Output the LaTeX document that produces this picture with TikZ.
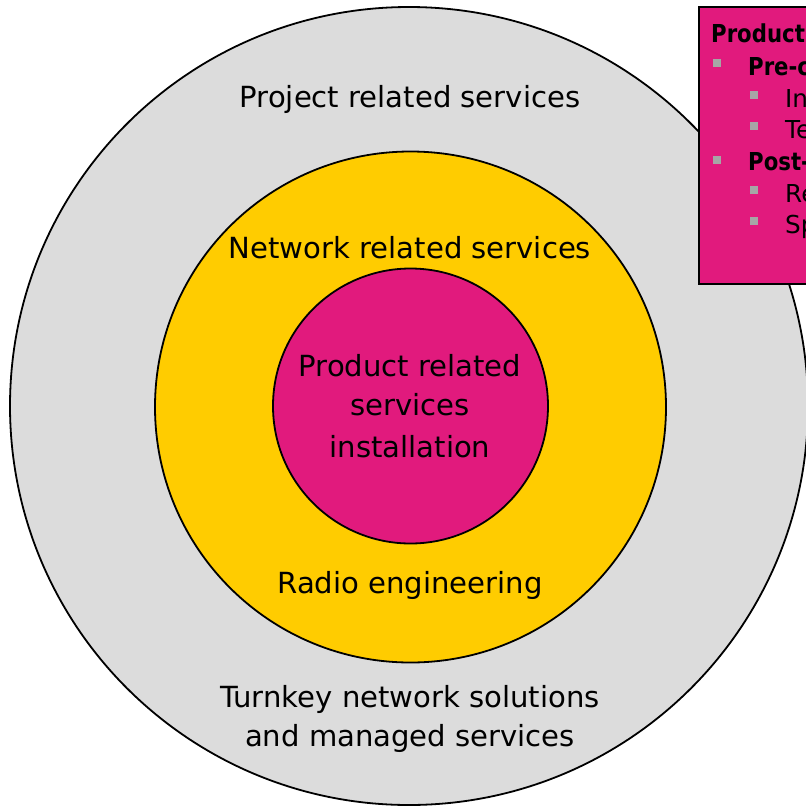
\documentclass[tikz,border=0pt]{standalone}
\usepackage{fontspec}
\setmainfont{DejaVu Sans}
\newfontfamily\narrowfont[FakeStretch=0.86]{DejaVu Sans}
\usetikzlibrary{positioning}

\definecolor{ringgray}{RGB}{220,220,220}
\definecolor{ringyellow}{RGB}{255,204,0}
\definecolor{ringpink}{RGB}{225,26,125}
\definecolor{bulletgray}{RGB}{166,166,166}

\tikzset{
  ring/.style={circle, draw=black, line width=1.8pt, inner sep=0pt},
  label/.style={anchor=base, inner sep=0pt, font=\fontsize{29.1}{39.5}\selectfont},
  boxtext/.style={anchor=base west, inner sep=0pt, font=\fontsize{24.7}{32}\selectfont},
  boxhead/.style={boxtext, font=\fontsize{24.7}{32}\selectfont\narrowfont\bfseries},
  bullet/.style={fill=bulletgray, inner sep=0pt, minimum size=7.5pt}
}

\begin{document}
\begin{tikzpicture}[x=1pt,y=-1pt]
\useasboundingbox (0,0) rectangle (806,807);

% rings
\node[ring, fill=ringgray, minimum size=798pt](outer) at (409,406){};
\node[ring, fill=ringyellow, minimum size=511pt](middle) at (410.5,407){};
\node[ring, fill=ringpink, minimum size=275pt](inner) at (410.5,406){};

% ring labels
\node[label](project) at (410,107){Project related services};
\node[label](network) at (410,258){Network related services};
\node[label](productA) at (410,376){Product related};
\node[label](productB) at (410,415){services};
\node[label](productC) at (410,457){installation};
\node[label](radio) at (410,593){Radio engineering};
\node[label](turnkeyA) at (410,707){Turnkey network solutions};
\node[label](turnkeyB) at (410,746){and managed services};

% call-out box
\draw[fill=ringpink, draw=black, line width=1.8pt] (699,7) rectangle (840,284);
\node[boxhead](head) at (711,42){Product};
\node[bullet](b1) at (717,63){};
\node[boxhead](pre) at (748,75){Pre-c};
\node[bullet](b2) at (754,95){};
\node[boxtext](in) at (785,107){In};
\node[bullet](b3) at (754,126){};
\node[boxtext](te) at (785,138){Te};
\node[bullet](b4) at (717,160){};
\node[boxhead](post) at (748,170){Post-};
\node[bullet](b5) at (754,190){};
\node[boxtext](re) at (785,202){Re};
\node[bullet](b6) at (754,221){};
\node[boxtext](sp) at (785,233){Sp};
\end{tikzpicture}
\end{document}
